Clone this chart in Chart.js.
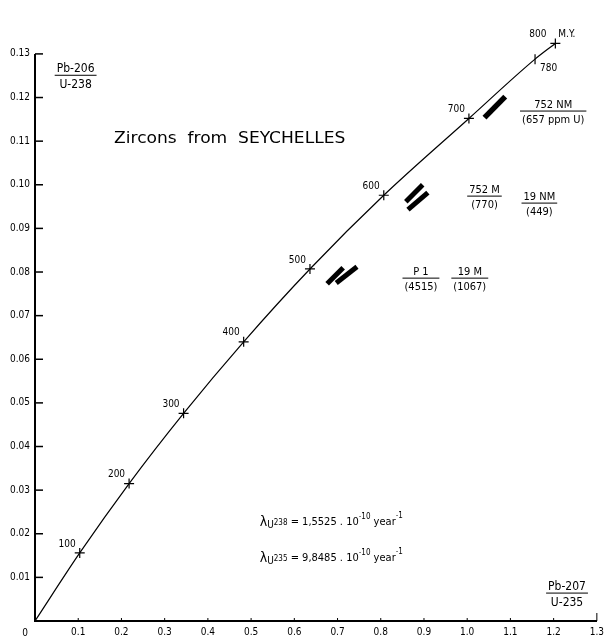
<!DOCTYPE html>
<html>
<head>
<meta charset="utf-8">
<script src="https://cdn.jsdelivr.net/npm/chart.js@4/dist/chart.umd.min.js"></script>
<style>
  html, body { margin: 0; padding: 0; background: #fff; }
  #concordia { display: block; }
</style>
</head>
<body>
<canvas id="concordia" width="609" height="638"></canvas>
<script>
// concordia curve (age in M.Y.)
const ages = [0, 100, 200, 300, 400, 500, 600, 700, 780, 800];
const pb207u235 = [0, 0.1035, 0.2177, 0.3438, 0.4828, 0.6362, 0.8070, 1.0040, 1.1570, 1.2040];
const pb206u238 = [0, 0.0156, 0.0315, 0.0476, 0.0640, 0.0807, 0.0976, 0.1152, 0.1288, 0.1324];

// zircon fractions, drawn as short thick bars (start / end)
const samples = ['P 1', '19 M', '752 M', '19 NM', '752 NM'];
const uranium = ['(4515)', '(1067)', '(770)', '(449)', '(657 ppm U)'];
const barX0 = [0.676, 0.697, 0.858, 0.863, 1.040];
const barY0 = [0.0773, 0.0775, 0.0961, 0.0943, 0.1154];
const barX1 = [0.713, 0.745, 0.897, 0.909, 1.088];
const barY1 = [0.0810, 0.0812, 0.1000, 0.0982, 0.1202];
// where the sample labels sit (data units, centre of the fraction line)
const labelX = [0.893, 1.006, 1.040, 1.167, 1.199];
const labelY = [0.0786, 0.0786, 0.0974, 0.0958, 0.1169];

const xTicks = [0, 0.1, 0.2, 0.3, 0.4, 0.5, 0.6, 0.7, 0.8, 0.9, 1.0, 1.1, 1.2, 1.3];
const yTicks = [0, 0.01, 0.02, 0.03, 0.04, 0.05, 0.06, 0.07, 0.08, 0.09, 0.10, 0.11, 0.12, 0.13];

const FONT = "'DejaVu Sans Condensed', 'DejaVu Sans', sans-serif";

let curve = ages.map((a, i) => ({x: pb207u235[i], y: pb206u238[i], age: a}));
let crosses = curve.filter(p => p.age > 0 && p.age % 100 === 0);
let mark780 = curve.filter(p => p.age === 780);

let barSets = samples.map((s, i) => ({
    label: s,
    type: 'line',
    data: [{x: barX0[i], y: barY0[i]}, {x: barX1[i], y: barY1[i]}],
    borderColor: '#000',
    borderWidth: i === 4 ? 5.5 : 5,
    borderCapStyle: 'butt',
    pointRadius: 0,
    clip: false,
}));

function line(ctx, x0, y0, x1, y1) {
    ctx.beginPath();
    ctx.moveTo(x0, y0);
    ctx.lineTo(x1, y1);
    ctx.stroke();
}

function fraction(ctx, cx, cy, top, bottom, size) {
    ctx.font = `${size}px ${FONT}`;
    ctx.textAlign = 'center';
    ctx.textBaseline = 'alphabetic';
    let w = Math.max(ctx.measureText(top).width, ctx.measureText(bottom).width) + 4;
    ctx.fillText(top, cx, cy - 3);
    ctx.fillText(bottom, cx, cy + size + 1);
    ctx.lineWidth = 1;
    line(ctx, cx - w / 2, cy, cx + w / 2, cy);
}

// λ lines: pieces of [text, size, raise]
function richText(ctx, x, y, pieces) {
    ctx.textAlign = 'left';
    ctx.textBaseline = 'middle';
    pieces.forEach(([t, size, dy]) => {
        ctx.font = `${size}px ${FONT}`;
        ctx.fillText(t, x, y + dy);
        x += ctx.measureText(t).width;
    });
}

const annotations = {
    id: 'annotations',
    afterDatasetsDraw(chart) {
        const {ctx, scales: {x, y}} = chart;
        const px = v => x.getPixelForValue(v);
        const py = v => y.getPixelForValue(v);
        ctx.save();
        ctx.strokeStyle = '#000';
        ctx.fillStyle = '#000';

        // y axis stops at 0.13
        ctx.lineWidth = 2;
        line(ctx, px(0), py(0), px(0), py(0.13));

        // inside ticks
        ctx.lineWidth = 1.5;
        yTicks.slice(1).forEach(v => line(ctx, px(0), py(v), px(0) + 8, py(v)));
        ctx.lineWidth = 1;
        xTicks.slice(1).forEach(v => line(ctx, px(v), py(0), px(v), py(0) - (v === 1.3 ? 8 : 3)));

        // the "0" at the corner
        ctx.font = `10px ${FONT}`;
        ctx.textAlign = 'center';
        ctx.textBaseline = 'middle';
        ctx.fillText('0', px(0) - 10, py(0) + 12);

        // age labels
        ctx.font = `10px ${FONT}`;
        crosses.forEach(p => {
            if (p.age === 800) {
                ctx.textAlign = 'right';
                ctx.fillText('800', px(p.x) - 9, py(p.y) - 9);
                ctx.textAlign = 'left';
                ctx.fillText('M.Y.', px(p.x) + 3, py(p.y) - 9);
            } else {
                ctx.textAlign = 'right';
                ctx.fillText(String(p.age), px(p.x) - 4, py(p.y) - 9);
            }
        });
        ctx.textAlign = 'left';
        ctx.fillText('780', px(mark780[0].x) + 5, py(mark780[0].y) + 9);

        // title inside the plot, stretched to the width it has in the figure
        ctx.font = `16px ${FONT}`;
        ctx.textAlign = 'left';
        let title = 'Zircons  from  SEYCHELLES';
        let tw = ctx.measureText(title).width;
        ctx.save();
        ctx.translate(px(0.183), py(0.1105));
        ctx.scale((px(0.718) - px(0.183)) / tw, 1);
        ctx.fillText(title, 0, 0);
        ctx.restore();

        // axis names
        fraction(ctx, px(0.094), py(0.1251), 'Pb-206', 'U-238', 12);
        fraction(ctx, px(1.231), py(0.0064), 'Pb-207', 'U-235', 12);

        // sample labels
        samples.forEach((s, i) => fraction(ctx, px(labelX[i]), py(labelY[i]), s, uranium[i], 11));

        // decay constants
        richText(ctx, px(0.520), py(0.0227), [
            ['λ', 14, 0], ['U', 10, 3], ['238', 8, 1], [' = 1,5525 . 10', 11, 0],
            ['-10', 8, -5], [' year', 11, 0], ['-1', 8, -6]]);
        richText(ctx, px(0.520), py(0.0144), [
            ['λ', 14, 0], ['U', 10, 3], ['235', 8, 1], [' = 9,8485 . 10', 11, 0],
            ['-10', 8, -5], [' year', 11, 0], ['-1', 8, -6]]);
        ctx.restore();
    }
};

new Chart(document.querySelector('#concordia'), {
    type: 'scatter',
    data: {
        datasets: [
            {
                label: 'concordia',
                type: 'line',
                data: curve,
                borderColor: '#000',
                borderWidth: 1.2,
                pointRadius: 0,
                cubicInterpolationMode: 'monotone',
                clip: false,
            },
            {
                label: 'ages',
                data: crosses,
                pointStyle: 'cross',
                pointRadius: 5,
                borderColor: '#000',
                borderWidth: 1.2,
                clip: false,
            },
            {
                label: '780',
                data: mark780,
                pointStyle: 'line',
                rotation: 90,
                pointRadius: 5,
                borderColor: '#000',
                borderWidth: 1.2,
                clip: false,
            },
            ...barSets,
        ]
    },
    plugins: [annotations],
    options: {
        responsive: false,
        animation: false,
        layout: {padding: {top: 43, right: 9, left: 0, bottom: 0}},
        plugins: {
            legend: {display: false},
            tooltip: {enabled: false},
        },
        scales: {
            x: {
                type: 'linear',
                min: 0,
                max: 1.3,
                afterBuildTicks: s => { s.ticks = xTicks.map(v => ({value: v})); },
                afterFit: s => { s.height = 17; },
                grid: {drawOnChartArea: false, drawTicks: false},
                border: {color: '#000', width: 2},
                ticks: {
                    color: '#000',
                    padding: 5,
                    maxRotation: 0,
                    autoSkip: false,
                    font: {family: FONT, size: 10},
                    callback: v => v === 0 ? '' : v.toFixed(1),
                },
            },
            y: {
                type: 'linear',
                min: 0,
                max: 0.1325,
                afterBuildTicks: s => { s.ticks = yTicks.map(v => ({value: v})); },
                afterFit: s => { s.width = 35; },
                grid: {drawOnChartArea: false, drawTicks: false},
                border: {display: false},
                ticks: {
                    color: '#000',
                    padding: 5,
                    autoSkip: false,
                    font: {family: FONT, size: 10},
                    callback: v => v === 0 ? '' : v.toFixed(2),
                },
            },
        },
    },
});
</script>
</body>
</html>
